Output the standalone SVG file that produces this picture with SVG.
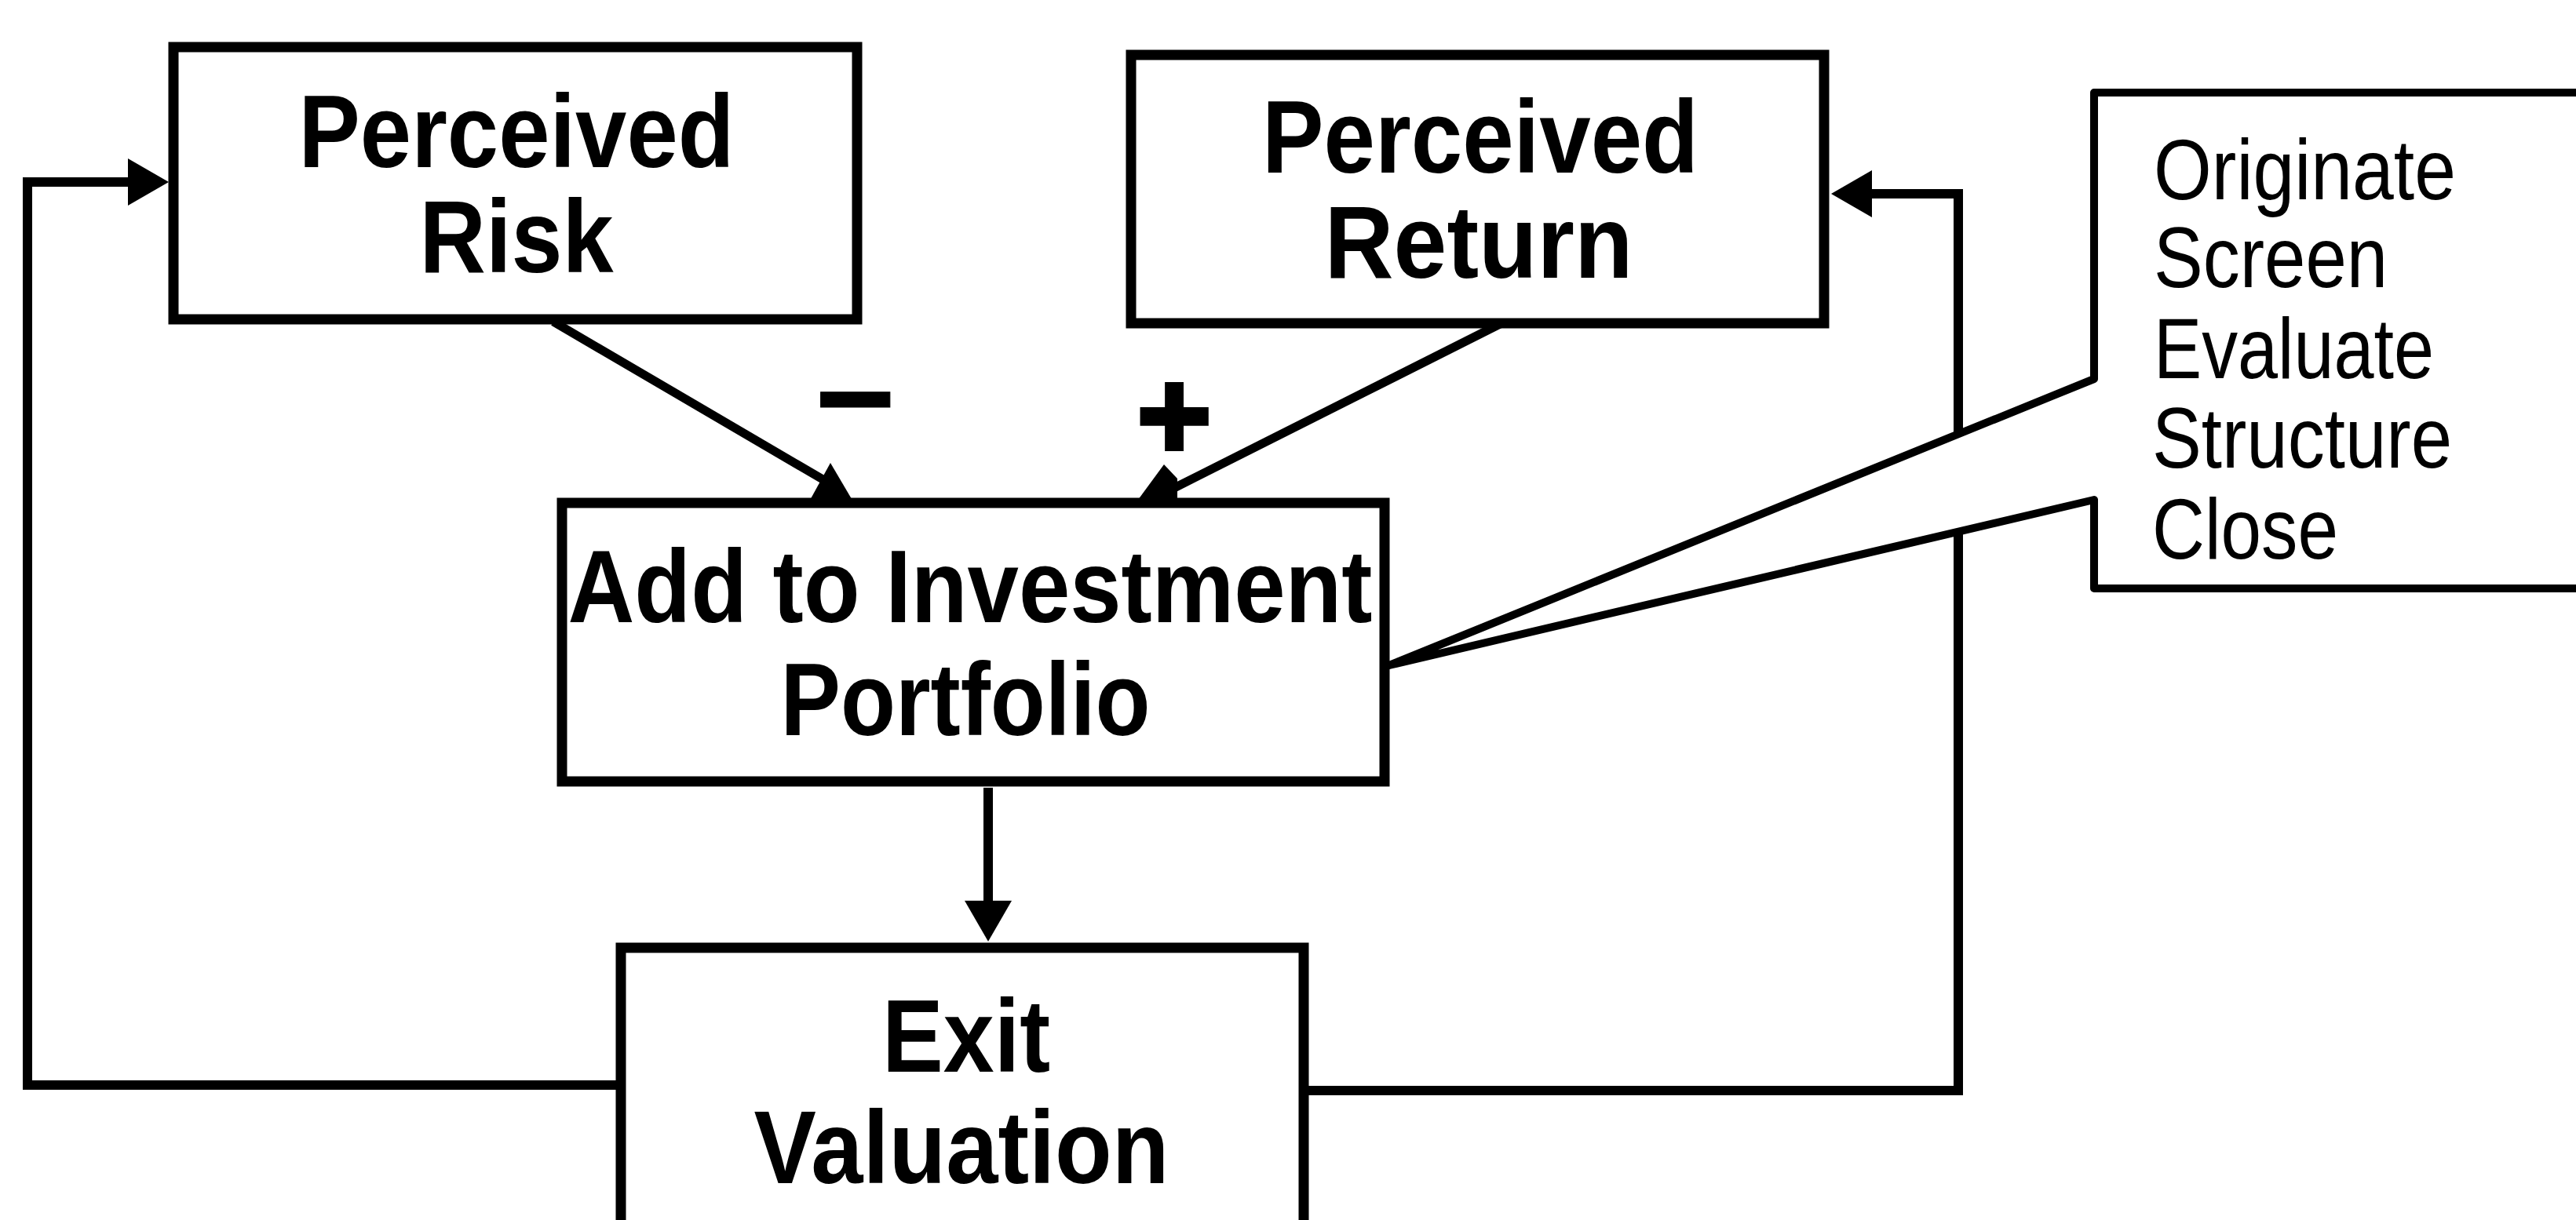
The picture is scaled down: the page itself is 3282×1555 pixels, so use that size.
<svg xmlns="http://www.w3.org/2000/svg" width="3282" height="1555" viewBox="0 0 3282 1555">
  <style>
    .box { fill: #fff; stroke: #000; stroke-width: 13; }
    .wire { fill: none; stroke: #000; stroke-width: 12; }
    .diag { fill: none; stroke: #000; stroke-width: 11; }
    .head { fill: #000; }
    .label { font-family: "Liberation Sans", Arial, sans-serif; font-weight: bold; font-size: 131px; fill: #000; text-anchor: middle; }
    .sign { font-family: "Liberation Sans", Arial, sans-serif; font-weight: bold; fill: #000; stroke: #000; text-anchor: middle; }
    .minus { font-size: 176px; stroke-width: 1; }
    .plus { font-size: 162px; stroke-width: 6; }
    .step { font-family: "Liberation Sans", Arial, sans-serif; font-size: 109px; fill: #000; }
    .callout { fill: #fff; stroke: #000; stroke-width: 10; stroke-linejoin: round; }
  </style>
  <defs>
    <marker id="arrow" markerUnits="userSpaceOnUse" markerWidth="52" markerHeight="60" refX="0" refY="30" orient="auto">
      <path d="M0,0 L52,30 L0,60 Z" fill="#000"/>
    </marker>
  </defs>
  <rect width="3282" height="1555" fill="#fff"/>

  <!-- connectors -->
  <g id="connectors">
    <!-- feedback loop: exit valuation back to perceived risk -->
    <path class="wire" d="M791,1383 H35 V232 H163" marker-end="url(#arrow)"/>
    <!-- feedback loop: exit valuation back to perceived return -->
    <path class="wire" d="M1661,1390 H2495 V247 H2385" marker-end="url(#arrow)"/>
    <!-- portfolio to exit -->
    <path class="wire" d="M1259,1004 V1148" marker-end="url(#arrow)"/>
    <!-- risk (negative) into portfolio -->
    <path class="diag" d="M705,410 L1050,612"/>
    <polygon class="head" points="1030,641 1058,590 1088,641"/>
    <!-- return (positive) into portfolio -->
    <path class="diag" d="M1913,412 L1490,625"/>
    <polygon class="head" points="1447,641 1483,592 1500,610 1500,641"/>
    <text class="sign minus" x="1090" y="568">−</text>
    <text class="sign plus" x="1496" y="585">+</text>
  </g>

  <g id="perceived-risk">
    <rect class="box" x="221" y="60" width="871" height="347"/>
    <text class="label" x="658" y="213" textLength="555" lengthAdjust="spacingAndGlyphs">Perceived</text>
    <text class="label" x="658" y="347" textLength="247" lengthAdjust="spacingAndGlyphs">Risk</text>
  </g>

  <g id="perceived-return">
    <rect class="box" x="1441" y="70" width="883" height="342"/>
    <text class="label" x="1886" y="220" textLength="556" lengthAdjust="spacingAndGlyphs">Perceived</text>
    <text class="label" x="1884" y="354" textLength="393" lengthAdjust="spacingAndGlyphs">Return</text>
  </g>

  <g id="add-to-portfolio">
    <rect class="box" x="716" y="641" width="1048" height="355"/>
    <text class="label" x="1236" y="793" textLength="1025" lengthAdjust="spacingAndGlyphs">Add to Investment</text>
    <text class="label" x="1230" y="937" textLength="471" lengthAdjust="spacingAndGlyphs">Portfolio</text>
  </g>

  <g id="exit-valuation">
    <rect class="box" x="791" y="1208" width="870" height="400"/>
    <text class="label" x="1231" y="1366" textLength="214" lengthAdjust="spacingAndGlyphs">Exit</text>
    <text class="label" x="1225" y="1508" textLength="529" lengthAdjust="spacingAndGlyphs">Valuation</text>
  </g>

  <g id="deal-steps">
    <path class="callout" d="M3300,118 H2668 V483 L1770,848 L2668,637 V750 H3300"/>
    <text class="step" x="2744" y="254" textLength="385" lengthAdjust="spacingAndGlyphs">Originate</text>
    <text class="step" x="2744" y="366" textLength="298" lengthAdjust="spacingAndGlyphs">Screen</text>
    <text class="step" x="2744" y="482" textLength="357" lengthAdjust="spacingAndGlyphs">Evaluate</text>
    <text class="step" x="2742" y="596" textLength="382" lengthAdjust="spacingAndGlyphs">Structure</text>
    <text class="step" x="2742" y="712" textLength="237" lengthAdjust="spacingAndGlyphs">Close</text>
  </g>
</svg>
